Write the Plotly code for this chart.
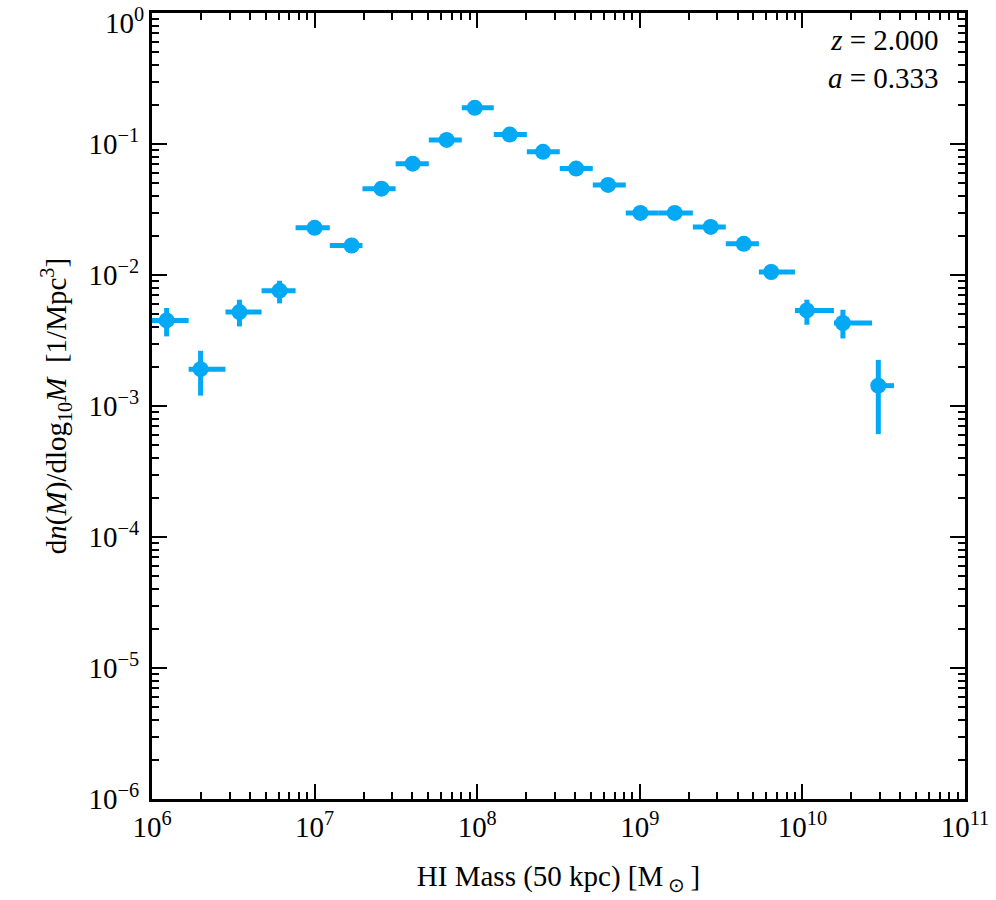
import numpy as np
import plotly.graph_objects as go

# HI mass bins (M_sun): centre, lower edge, upper edge
mass = [1.23e6, 1.99e6, 3.45e6, 6.09e6, 1.00e7, 1.69e7, 2.58e7, 4.01e7, 6.49e7, 9.66e7,
        1.585e8, 2.54e8, 4.06e8, 6.38e8, 1.009e9, 1.64e9, 2.73e9, 4.36e9, 6.43e9,
        1.066e10, 1.775e10, 2.93e10]
mass_lo = [1.0e6, 1.68e6, 2.83e6, 4.72e6, 7.64e6, 1.24e7, 1.97e7, 3.15e7, 5.04e7, 8.04e7,
           1.265e8, 2.02e8, 3.22e8, 5.14e8, 8.20e8, 1.31e9, 2.12e9, 3.38e9, 5.40e9,
           9.0e9, 1.563e10, 2.68e10]
mass_hi = [1.68e6, 2.83e6, 4.72e6, 7.64e6, 1.24e7, 1.97e7, 3.15e7, 5.04e7, 8.04e7, 1.265e8,
           2.02e8, 3.22e8, 5.14e8, 8.20e8, 1.31e9, 2.12e9, 3.38e9, 5.40e9, 9.0e9,
           1.563e10, 2.68e10, 3.66e10]

# mass function dn/dlog10 M (Mpc^-3) with upper / lower values
phi = [4.50e-3, 1.91e-3, 5.21e-3, 7.59e-3, 0.0229, 0.0168, 0.0456, 0.0708, 0.1074, 0.189,
       0.118, 0.0871, 0.0649, 0.0487, 0.0298, 0.0298, 0.0233, 0.0173, 0.01054,
       5.37e-3, 4.30e-3, 1.43e-3]
phi_up = [5.60e-3, 2.64e-3, 6.48e-3, 9.04e-3, 0.0235, 0.0172, 0.0464, 0.0717, 0.1086, 0.191,
          0.120, 0.0883, 0.0660, 0.0497, 0.0305, 0.0305, 0.0241, 0.0181, 0.0120,
          6.48e-3, 5.43e-3, 2.25e-3]
phi_dn = [3.40e-3, 1.20e-3, 4.05e-3, 6.07e-3, 0.0223, 0.0164, 0.0448, 0.0699, 0.1062, 0.187,
          0.116, 0.0859, 0.0638, 0.0477, 0.0291, 0.0291, 0.0225, 0.0165, 0.0093,
          4.17e-3, 3.28e-3, 6.1e-4]

x_ticks = [1e6, 1e7, 1e8, 1e9, 1e10, 1e11]
x_text = ["10<sup>6</sup>", "10<sup>7</sup>", "10<sup>8</sup>", "10<sup>9</sup>",
          "10<sup>10</sup>", "10<sup>11</sup>"]
y_ticks = [1e-6, 1e-5, 1e-4, 1e-3, 1e-2, 1e-1, 1e0]
# the top label (10^0) is written as an annotation so it stays inside the page
y_text = ["10<sup>−6</sup>", "10<sup>−5</sup>", "10<sup>−4</sup>", "10<sup>−3</sup>",
          "10<sup>−2</sup>", "10<sup>−1</sup>", ""]
y_top_label = "10<sup>0</sup>"

# minor ticks at 2..9 x 10^n
x_minor = [k * 10.0 ** n for n in range(6, 11) for k in range(2, 10)]
y_minor = [k * 10.0 ** n for n in range(-6, 0) for k in range(2, 10)]

m = np.array(mass)
p = np.array(phi)
blue = "#03a9f4"

fig = go.Figure()
fig.add_trace(go.Scatter(
    x=m, y=p, mode="markers",
    marker=dict(color=blue, size=16),
    error_x=dict(type="data", symmetric=False,
                 array=np.array(mass_hi) - m, arrayminus=m - np.array(mass_lo),
                 color=blue, thickness=5, width=0),
    error_y=dict(type="data", symmetric=False,
                 array=np.array(phi_up) - p, arrayminus=p - np.array(phi_dn),
                 color=blue, thickness=5, width=0),
    showlegend=False,
))
# invisible copy on the overlay axes that carry the minor ticks
fig.add_trace(go.Scatter(x=m, y=p, xaxis="x2", yaxis="y2", mode="markers",
                         marker=dict(opacity=0), hoverinfo="skip", showlegend=False))

font = "Liberation Serif, Times New Roman, serif"
xr = [6, 11.0001]
yr = [-6, 0.0001]
axis_common = dict(
    type="log", showgrid=False, zeroline=False, automargin=False,
    showline=True, linecolor="black", linewidth=3, mirror="ticks",
    ticks="inside", tickwidth=2, tickcolor="black", tickmode="array",
)

fig.update_layout(
    xaxis=dict(axis_common, range=xr, ticklen=15, tickvals=x_ticks, ticktext=x_text,
               ticklabeloverflow="allow",
               tickfont=dict(family=font, size=29, color="black"),
               title=dict(text="HI Mass (50 kpc) [M<sub> ⊙ </sub>]",
                          font=dict(family=font, size=29, color="black"), standoff=24)),
    yaxis=dict(axis_common, range=yr, ticklen=15, tickvals=y_ticks, ticktext=y_text,
               ticklabelstandoff=4, ticklabeloverflow="allow",
               tickfont=dict(family=font, size=29, color="black"),
               title=dict(text="d<i>n</i>(<i>M</i>)/dlog<sub>10</sub><i>M</i>  [1/Mpc<sup>3</sup>]",
                          font=dict(family=font, size=29, color="black"), standoff=14)),
    xaxis2=dict(axis_common, range=xr, ticklen=7, tickvals=x_minor, showticklabels=False,
                overlaying="x", anchor="y2", side="bottom"),
    yaxis2=dict(axis_common, range=yr, ticklen=7, tickvals=y_minor, showticklabels=False,
                overlaying="y", anchor="x2", side="left"),
)

fig.add_annotation(x=0, y=1, xref="paper", yref="paper", xanchor="right", yanchor="top",
                   xshift=-6, yshift=12, showarrow=False, text=y_top_label,
                   font=dict(family=font, size=29, color="black"))

fig.add_annotation(x=0.97, y=0.988, xref="paper", yref="paper", xanchor="right", yanchor="top",
                   align="right", showarrow=False,
                   text="<i>z</i> = 2.000<br><i>a</i> = 0.333",
                   font=dict(family=font, size=29, color="black"))

fig.update_layout(
    width=996, height=900,
    margin=dict(l=152, r=31, t=13, b=101),
    plot_bgcolor="white", paper_bgcolor="white",
)

# no page margin, and let labels draw past the svg edge
js = ("document.body.style.margin='0';"
      "document.querySelectorAll('svg.main-svg').forEach(function(s){s.style.overflow='visible';});")
fig.write_html("out.html", post_script=js, config={"displayModeBar": False})
